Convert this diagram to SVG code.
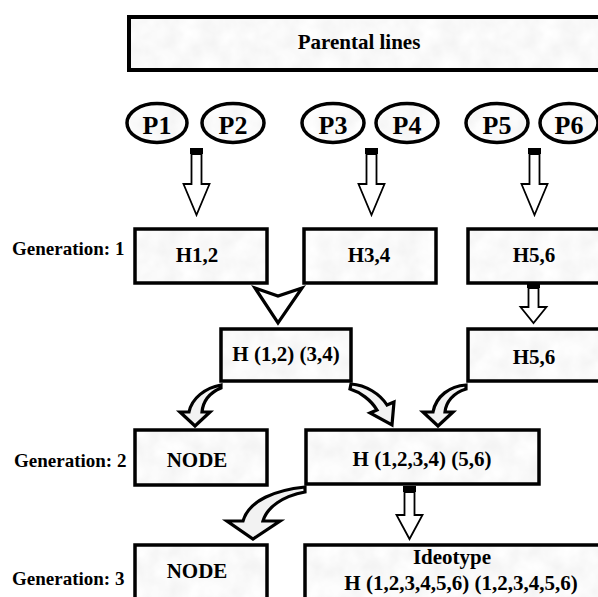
<svg xmlns="http://www.w3.org/2000/svg" width="598" height="597" viewBox="0 0 598 597">
<defs>
<filter id="noise" x="0" y="0" width="100%" height="100%">
<feTurbulence type="fractalNoise" baseFrequency="0.05" numOctaves="3" seed="4" stitchTiles="stitch"/>
<feColorMatrix type="matrix" values="0.14 0 0 0 0.88  0.14 0 0 0 0.88  0.14 0 0 0 0.88  0 0 0 0 1"/>
</filter>
<pattern id="tex" width="120" height="120" patternUnits="userSpaceOnUse">
<rect width="120" height="120" fill="#f4f4f4" filter="url(#noise)"/>
</pattern>
</defs>
<style>
.box{fill:url(#tex);stroke:#000;stroke-width:3.5}
.pbox{fill:url(#tex);stroke:#000;stroke-width:4}
.ell{fill:url(#tex);stroke:#000;stroke-width:3.5}
text{font-family:'Liberation Serif','Times New Roman','DejaVu Serif',serif;font-weight:bold;fill:#000}
.t{font-size:21px;text-anchor:middle}
.p{font-size:26px}
.g{font-size:19px}
.arr{fill:#fff;stroke:#000;stroke-width:1.8;stroke-linejoin:miter}
.cap{fill:#000}
.carr{fill:#f2f2f2;stroke:#000;stroke-width:3.2;stroke-linejoin:miter}
.tri{fill:#fff;stroke:#000;stroke-width:3.2;stroke-linejoin:miter}
</style>
<rect width="598" height="597" fill="#fff"/>

<g id="parental">
<rect class="pbox" x="129" y="17" width="480" height="53"/>
<text class="t" x="359" y="49">Parental lines</text>
</g>

<g id="P1"><ellipse class="ell" cx="157" cy="123" rx="30" ry="19.5"/><text class="t p" x="157" y="134">P1</text></g>
<g id="P2"><ellipse class="ell" cx="233" cy="123" rx="31" ry="19.5"/><text class="t p" x="233" y="134">P2</text></g>
<g id="P3"><ellipse class="ell" cx="333" cy="123" rx="31" ry="19.5"/><text class="t p" x="333" y="134">P3</text></g>
<g id="P4"><ellipse class="ell" cx="407" cy="123" rx="31" ry="19.5"/><text class="t p" x="407" y="134">P4</text></g>
<g id="P5"><ellipse class="ell" cx="497" cy="123" rx="31" ry="19.5"/><text class="t p" x="497" y="134">P5</text></g>
<g id="P6"><ellipse class="ell" cx="569" cy="123" rx="29" ry="19.5"/><text class="t p" x="569" y="134">P6</text></g>

<g id="gen-labels">
<text class="g" x="12" y="255">Generation: 1</text>
<text class="g" x="14" y="467">Generation: 2</text>
<text class="g" x="12" y="585">Generation: 3</text>
</g>

<g id="H12"><rect class="box" x="135" y="229" width="132" height="54"/><text class="t" x="197" y="262">H1,2</text></g>
<g id="H34"><rect class="box" x="304" y="229" width="132" height="54"/><text class="t" x="369" y="262">H3,4</text></g>
<g id="H56a"><rect class="box" x="468" y="229" width="140" height="54"/><text class="t" x="534" y="262">H5,6</text></g>
<g id="H1234"><rect class="box" x="221" y="329" width="130" height="52"/><text class="t" x="286" y="361">H (1,2) (3,4)</text></g>
<g id="H56b"><rect class="box" x="468" y="329" width="140" height="52"/><text class="t" x="534" y="364">H5,6</text></g>
<g id="NODE2"><rect class="box" x="135" y="430" width="132" height="55"/><text class="t" x="197" y="467">NODE</text></g>
<g id="H123456"><rect class="box" x="306" y="430" width="233" height="54"/><text class="t" x="422" y="466">H (1,2,3,4) (5,6)</text></g>
<g id="NODE3"><rect class="box" x="135" y="545" width="132" height="70"/><text class="t" x="197" y="578">NODE</text></g>
<g id="Ideotype"><rect class="box" x="305" y="545" width="310" height="70"/><text class="t" x="452" y="564">Ideotype</text><text class="t" x="461" y="590">H (1,2,3,4,5,6) (1,2,3,4,5,6)</text></g>

<g id="connectors">
<rect class="cap" x="190" y="148" width="13" height="6"/>
<path class="arr" d="M191.5,154 L191.5,184 L183.5,184 L196.5,215 L209.5,184 L201.5,184 L201.5,154 Z"/>
<rect class="cap" x="365" y="148" width="13" height="6"/>
<path class="arr" d="M366.5,154 L366.5,184 L358.5,184 L371.5,215 L384.5,184 L376.5,184 L376.5,154 Z"/>
<rect class="cap" x="528" y="148" width="13" height="6"/>
<path class="arr" d="M529.5,154 L529.5,184 L521.5,184 L534.5,215 L547.5,184 L539.5,184 L539.5,154 Z"/>

<path class="tri" d="M255,288 L278,296 L302,288 L278,323 Z"/>

<rect class="cap" x="527" y="283" width="13" height="5"/>
<path class="arr" d="M528.5,288 L528.5,307 L520.5,307 L533.5,323 L546.5,307 L538.5,307 L538.5,288 Z"/>

<path class="carr" d="M221,385 C205,388 192,398 189,412 L180,412 L195,426 L210,412 L202,412 C203,402 209,393 221,388 Z"/>
<path class="carr" d="M351,384 C366,385 380,394 387,405 L394,402 L392,425 L370,413 L377,410 C371,400 360,392 350,389 Z"/>
<path class="carr" d="M466,385 C450,386 436,396 433,412 L423,412 L438,426 L453,412 L445,412 C446,402 453,393 466,389 Z"/>

<rect class="cap" x="403" y="486" width="13" height="6"/>
<path class="arr" d="M404.5,492 L404.5,515 L396.5,515 L409.5,539 L422.5,515 L414.5,515 L414.5,492 Z"/>

<path class="carr" d="M305,487 C276,490 249,500 243,521 L227,521 L253,539 L280,521 L263,521 C267,507 283,496 305,492 Z"/>
</g>
</svg>
